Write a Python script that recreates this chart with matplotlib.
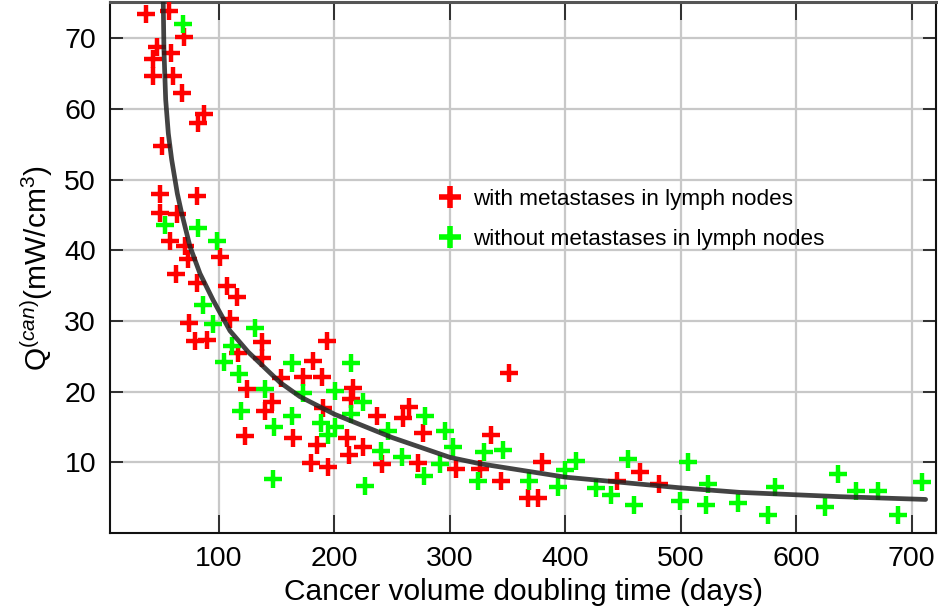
import numpy as np
import matplotlib.pyplot as plt
from matplotlib.lines import Line2D

plt.rcParams['font.family'] = ['Liberation Sans', 'DejaVu Sans']
plt.rcParams['mathtext.fontset'] = 'custom'
plt.rcParams['mathtext.rm'] = 'Liberation Sans'
plt.rcParams['mathtext.it'] = 'Liberation Sans:italic'

# with metastases in lymph nodes (red)
red_x = [36.8, 57, 69.7, 46.6, 58.2, 43.1, 43.1, 59.9, 67.7, 87, 81.5, 50.6, 48.9, 80.7,
         48.9, 63.3, 57.5, 70.5, 73.4, 100.8, 62.7, 80.7, 106.6, 115.3, 74.3, 109.5, 79.2,
         89.8, 116.7, 136.9, 136.9, 153.7, 124.5, 145.6, 139.8, 122.5, 163.8, 193.8, 181.6,
         172.4, 188.9, 216.3, 214, 190.3, 237, 264.7, 259, 210.5, 276.3, 185.1, 224.4, 212.8,
         179.4, 194.6, 240.8, 272.6, 305.2, 326, 335.2, 351, 379.3, 343.8, 367.7, 376.4,
         464.5, 444.3, 481.2]
red_y = [73.4, 73.8, 70.1, 68.8, 67.9, 67.0, 64.7, 64.6, 62.2, 59.2, 58.0, 54.7, 47.9, 47.6,
         45.3, 45.1, 41.3, 40.6, 38.7, 39.0, 36.6, 35.4, 35.0, 33.4, 29.7, 30.2, 27.2,
         27.3, 25.4, 27.0, 24.7, 21.9, 20.3, 18.6, 17.2, 13.7, 13.4, 27.2, 24.3,
         22.1, 22.1, 20.5, 19.0, 17.7, 16.6, 17.8, 16.2, 13.5, 14.1, 12.4, 12.1, 11.1,
         9.9, 9.4, 9.8, 9.9, 9.1, 9.1, 13.9, 22.7, 10.0, 7.4, 5.0, 5.0,
         8.7, 7.4, 6.9]

# without metastases in lymph nodes (green)
green_x = [69.1, 53.2, 82.1, 98.5, 85.9, 94.5, 110.9, 131.1, 104.3, 162.9, 117.6, 139.8,
           118.8, 163.4, 147.9, 146.5, 214, 173, 200.4, 224.9, 214, 278.3, 188, 200.4,
           246.6, 295.6, 194.6, 302.3, 240, 329.4, 258.1, 291.3, 277.5, 324.5, 226.4,
           346.1, 408.8, 399.5, 368.6, 393.8, 454.4, 426.4, 439.9, 459.3, 506.3, 523.6,
           499.6, 521.6, 549.6, 581.4, 575.6, 636.2, 651.5, 624.7, 670.8, 688.1, 709.2]
green_y = [72.0, 43.5, 43.2, 41.3, 32.3, 29.6, 26.5, 29.0, 24.2, 24.0, 22.5, 20.4,
           17.3, 16.5, 15.0, 7.7, 24.0, 19.8, 20.1, 18.6, 16.9, 16.5, 15.5, 15.0,
           14.4, 14.5, 13.8, 12.2, 11.6, 11.4, 10.7, 9.8, 8.0, 7.4, 6.7,
           11.8, 10.2, 8.9, 7.3, 6.5, 10.5, 6.4, 5.4, 3.9, 10.0, 6.9,
           4.6, 4.0, 4.3, 6.5, 2.5, 8.4, 6.0, 3.7, 6.0, 2.5, 7.2]

# fitted curve
curve_x = [51.7, 52.3, 53.8, 56.1, 59.0, 63.9, 67.7, 74.9, 83.5, 95.0, 109.5, 125.3,
           141.3, 152.8, 170, 200, 250, 300, 326, 400, 499, 551, 638, 712]
curve_y = [75, 68.3, 61.3, 56.5, 52.8, 48.0, 45.2, 40.5, 36.7, 32.9, 28.6, 25.6,
           23.1, 21.3, 19.3, 16.8, 13.5, 10.7, 9.8, 7.9, 6.4, 5.75, 5.14, 4.75]

xticks = [100, 200, 300, 400, 500, 600, 700]
yticks = [10, 20, 30, 40, 50, 60, 70]

fig = plt.figure(figsize=(9.38, 6.16), dpi=100)
ax = fig.add_axes([0.1173, 0.1347, 0.8806, 0.862])

mk = dict(marker='+', linestyle='none', markersize=12.5, markeredgewidth=3.2)
ax.plot(red_x, red_y, color='#ff0000', zorder=3, **mk)
ax.plot(green_x, green_y, color='#00ff00', zorder=3, **mk)
ax.plot(curve_x, curve_y, color='#222222', lw=3.4, alpha=0.85, zorder=4,
        solid_capstyle='round')

ax.set_xlim(5.6, 721)
ax.set_ylim(0, 75.1)
ax.set_xticks(xticks)
ax.set_yticks(yticks)
ax.grid(True, color='#c8c8c8', lw=1.6)
ax.set_axisbelow(True)

ax.tick_params(axis='both', direction='in', top=True, right=True,
               labelsize=20.5, width=1.3, color='#222222')
ax.tick_params(axis='x', length=13, pad=9)
ax.tick_params(axis='y', length=9.5, pad=10)
for s in ['left', 'right', 'bottom']:
    ax.spines[s].set_linewidth(1.5)
    ax.spines[s].set_color('#111111')
ax.spines['top'].set_linewidth(2.2)
ax.spines['top'].set_color('#555555')

ax.set_xlabel('Cancer volume doubling time (days)', fontsize=21.5, labelpad=5)
ax.set_ylabel(r'Q$^{\mathit{(can)}}$(mW/cm$^{3}$)', fontsize=21.5, labelpad=7)

handles = [Line2D([], [], color='#ff0000', marker='+', linestyle='none',
                  markersize=16, markeredgewidth=4),
           Line2D([], [], color='#00ff00', marker='+', linestyle='none',
                  markersize=16, markeredgewidth=4)]
ax.legend(handles, ['with metastases in lymph nodes',
                    'without metastases in lymph nodes'],
          loc='upper left', bbox_to_anchor=(0.382, 0.67), frameon=False,
          fontsize=16.2, borderpad=0, handlelength=1.2, handletextpad=0.42,
          labelspacing=0.88)

plt.savefig('out.png', dpi=100)
